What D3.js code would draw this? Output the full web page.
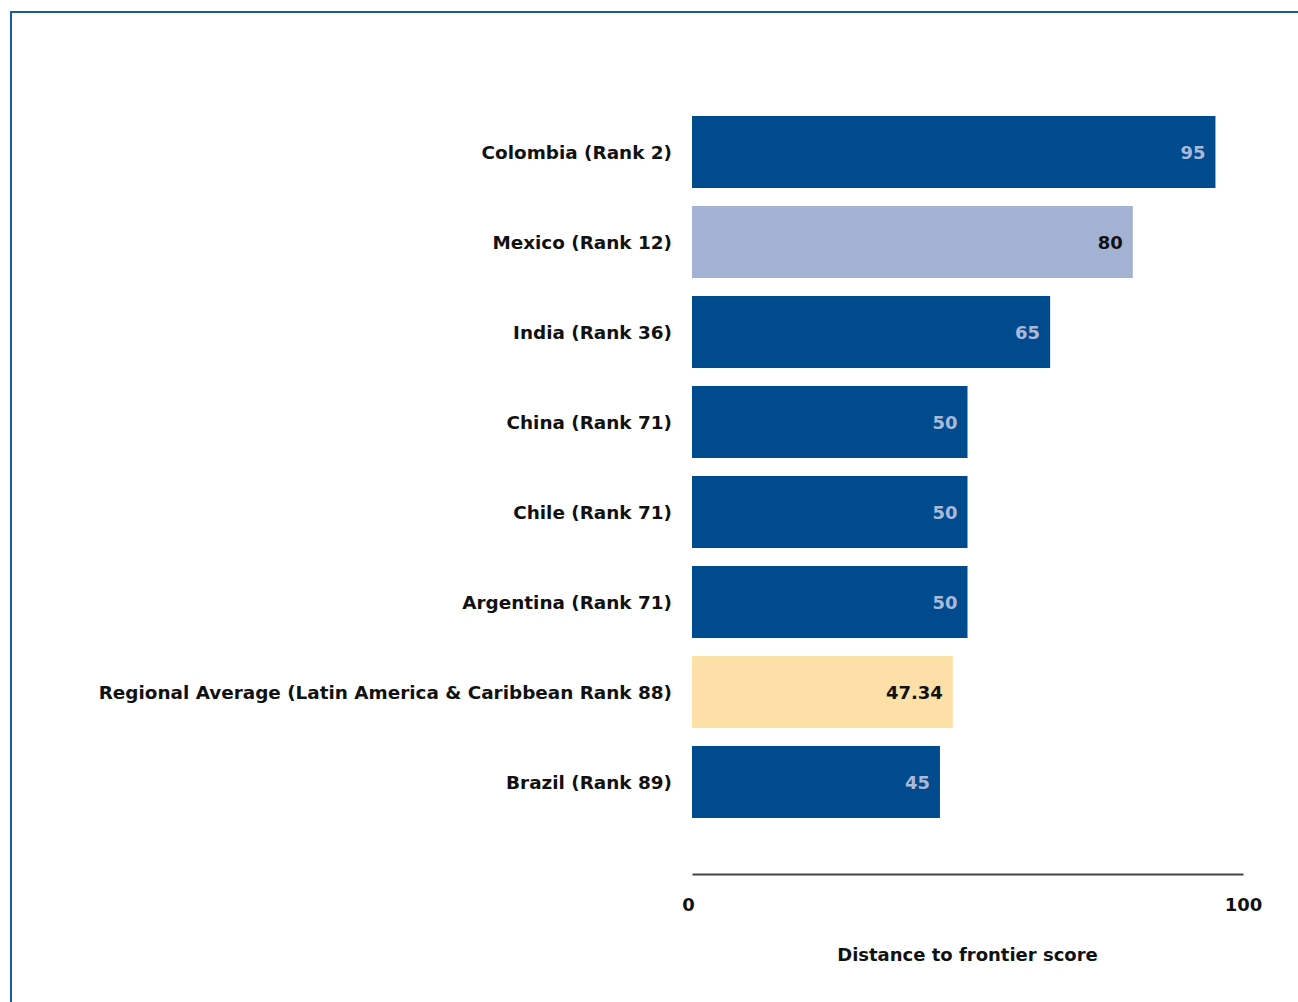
<!DOCTYPE html>
<html>
<head>
<meta charset="utf-8">
<script src="https://cdn.jsdelivr.net/npm/d3@7"></script>
<style>
  body { margin: 0; background: #fff; }
  svg text { font-family: "DejaVu Sans", Verdana, sans-serif; font-weight: bold; }
</style>
</head>
<body>
<svg id="chart" width="1298" height="1002"></svg>
<script>
// economies and their distance to frontier scores
var labels = [
    "Colombia (Rank 2)",
    "Mexico (Rank 12)",
    "India (Rank 36)",
    "China (Rank 71)",
    "Chile (Rank 71)",
    "Argentina (Rank 71)",
    "Regional Average (Latin America & Caribbean Rank 88)",
    "Brazil (Rank 89)"
];
var scores = [95, 80, 65, 50, 50, 50, 47.34, 45];
var kinds = ["economy", "highlight", "economy", "economy", "economy", "economy", "average", "economy"];
var tickValues = [0, 100];
var axisTitle = "Distance to frontier score";

var fillFor = { economy: "#004b8d", highlight: "#a3b1d3", average: "#fde0a8" };
var valueColor = { economy: "#a9b9d9", highlight: "#111", average: "#111" };

var data = labels.map(function(l, i) {
    return { label: l, score: scores[i], kind: kinds[i] };
});

var svg = d3.select("#chart");

// frame (left and top rule)
svg.append("line")
    .attr("x1", 11).attr("x2", 11).attr("y1", 12).attr("y2", 1002)
    .attr("stroke", "#1a5a9a").attr("stroke-width", 2);
svg.append("line")
    .attr("x1", 10).attr("x2", 1298).attr("y1", 12).attr("y2", 12)
    .attr("stroke", "#1a5a9a").attr("stroke-width", 2);

var x = d3.scaleLinear().domain([0, 100]).range([692, 1243]);
var y = d3.scaleBand()
    .domain(labels)
    .range([107, 827])
    .paddingInner(0.2)
    .paddingOuter(0.1);

var bars = svg.append("g").selectAll("g")
    .data(data)
    .join("g");

bars.append("rect")
    .attr("x", x(0))
    .attr("y", function(d) { return y(d.label); })
    .attr("width", function(d) { return x(d.score) - x(0); })
    .attr("height", y.bandwidth())
    .attr("fill", function(d) { return fillFor[d.kind]; });

bars.append("text")
    .attr("x", function(d) { return x(d.score) - 10; })
    .attr("y", function(d) { return y(d.label) + y.bandwidth() / 2; })
    .attr("dy", "0.38em")
    .attr("text-anchor", "end")
    .attr("font-size", "18px")
    .attr("fill", function(d) { return valueColor[d.kind]; })
    .text(function(d) { return d.score; });

// category labels
svg.append("g").selectAll("text")
    .data(data)
    .join("text")
    .attr("x", x(0) - 20)
    .attr("y", function(d) { return y(d.label) + y.bandwidth() / 2; })
    .attr("dy", "0.4em")
    .attr("text-anchor", "end")
    .attr("font-size", "18.4px")
    .attr("fill", "#111")
    .text(function(d) { return d.label; });

// x axis
var axis = svg.append("g")
    .attr("transform", "translate(0,874)")
    .call(d3.axisBottom(x).tickValues(tickValues).tickSize(0).tickPadding(24));
axis.select(".domain").attr("stroke", "#444").attr("stroke-width", 2);
axis.selectAll(".tick text")
    .attr("font-size", "18px")
    .attr("fill", "#111")
    .attr("font-family", null)
    .attr("dx", function(d) { return d === 0 ? "-4" : "0"; });

svg.append("text")
    .attr("x", (x(0) + x(100)) / 2)
    .attr("y", 961)
    .attr("text-anchor", "middle")
    .attr("font-size", "18px")
    .attr("fill", "#111")
    .text(axisTitle);
</script>
</body>
</html>
